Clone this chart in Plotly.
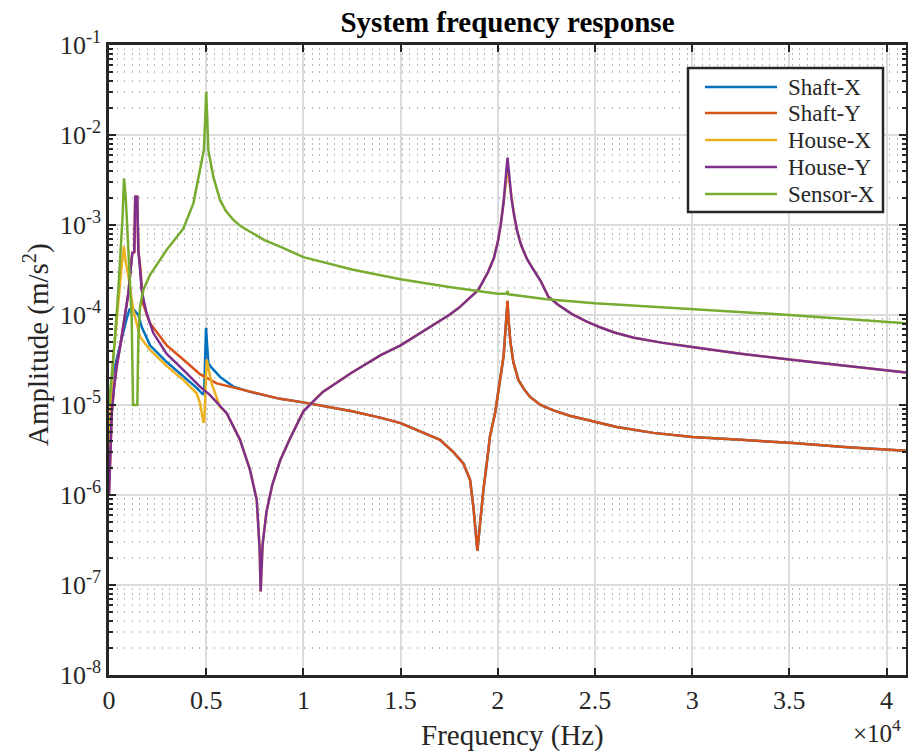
import plotly.graph_objects as go

# ---------------- data ----------------
freq_shaft_x = [0, 139, 250, 396, 560, 737, 900, 1050, 1200, 1350, 1510, 1680, 2110, 2970, 3820,
                4510, 4850, 4900, 4990, 5050, 5110, 5280, 5711, 6396, 7254, 8800, 10000, 12500,
                14000, 15000, 16000, 17030, 17715, 18230, 18573, 18745, 18950, 19090, 19260,
                19430, 19600, 19860, 20030, 20120, 20300, 20450, 20500, 20550, 20650, 20800,
                21060, 21350, 21660, 22200, 22860, 23700, 24580, 26120, 28000, 30000, 32500,
                35000, 38000, 41000]
amp_shaft_x = [1.0e-5, 1.8e-5, 2.4e-5, 3.3e-5, 4.5e-5, 6.5e-5, 9.0e-5, 1.15e-4, 1.2e-4, 1.1e-4,
               1.0e-4, 7.4e-5, 4.6e-5, 3.0e-5, 2.1e-5, 1.55e-5, 1.3e-5, 1.47e-5, 7.2e-5, 4.0e-5,
               2.9e-5, 2.6e-5, 2.05e-5, 1.6e-5, 1.4e-5, 1.17e-5, 1.07e-5, 8.5e-6, 7.2e-6, 6.3e-6,
               5.1e-6, 4.1e-6, 3.0e-6, 2.24e-6, 1.48e-6, 7.4e-7, 2.4e-7, 5.2e-7, 1.14e-6, 2.2e-6,
               4.5e-6, 8.1e-6, 1.47e-5, 1.9e-5, 3.5e-5, 1.0e-4, 1.4e-4, 9.0e-5, 5.0e-5, 3.0e-5,
               1.9e-5, 1.5e-5, 1.23e-5, 1.0e-5, 8.7e-6, 7.6e-6, 6.8e-6, 5.7e-6, 4.9e-6, 4.4e-6,
               4.1e-6, 3.8e-6, 3.4e-6, 3.1e-6]

freq_shaft_y = [0, 60, 139, 250, 396, 560, 737, 900, 995, 1100, 1200, 1300, 1350, 1450, 1510,
                1600, 1680, 1765, 2110, 2970, 3820, 4680, 5540, 7254, 8800, 10000, 12500, 14000,
                15000, 16000, 17030, 17715, 18230, 18573, 18745, 18950, 19090, 19260, 19430,
                19600, 19860, 20030, 20120, 20300, 20450, 20500, 20550, 20650, 20800, 21060,
                21350, 21660, 22200, 22860, 23700, 24580, 26120, 28000, 30000, 32500, 35000,
                38000, 41000]
amp_shaft_y = [1.0e-6, 3.0e-6, 8.0e-6, 1.5e-5, 2.7e-5, 4.3e-5, 7.4e-5, 1.2e-4, 1.74e-4, 3.0e-4,
               4.9e-4, 5.0e-4, 2.06e-3, 2.06e-3, 5.2e-4, 3.5e-4, 2.2e-4, 1.3e-4, 8.1e-5, 4.6e-5,
               3.2e-5, 2.2e-5, 1.74e-5, 1.4e-5, 1.17e-5, 1.07e-5, 8.5e-6, 7.2e-6, 6.3e-6, 5.1e-6,
               4.1e-6, 3.0e-6, 2.24e-6, 1.48e-6, 7.4e-7, 2.4e-7, 5.2e-7, 1.14e-6, 2.2e-6, 4.5e-6,
               8.1e-6, 1.47e-5, 1.9e-5, 3.5e-5, 1.0e-4, 1.45e-4, 9.0e-5, 5.0e-5, 3.0e-5, 1.9e-5,
               1.5e-5, 1.23e-5, 1.0e-5, 8.7e-6, 7.6e-6, 6.8e-6, 5.7e-6, 4.9e-6, 4.4e-6, 4.1e-6,
               3.8e-6, 3.4e-6, 3.1e-6]

freq_house_x = [0, 60, 139, 250, 396, 480, 566, 680, 770, 850, 995, 1250, 1595, 2110, 2970, 3820,
                4510, 4680, 4850, 4900, 5025, 5280, 5711, 6055, 6740, 7255, 7600, 7750, 7800,
                7900, 8100, 8400, 8800, 9300, 10000, 10500, 11000, 12500, 14000, 15000, 16000,
                17000, 17500, 18000, 18500, 19000, 19500, 19800, 20000, 20150, 20300, 20400,
                20500, 20600, 20700, 20850, 21000, 21200, 21500, 21830, 22200, 22600, 23100,
                23800, 24500, 25260, 26000, 27000, 28500, 30000, 32500, 35000, 38000, 41000]
amp_house_x = [3.5e-6, 8.0e-6, 1.75e-5, 4.0e-5, 8.1e-5, 1.3e-4, 2.2e-4, 4.0e-4, 5.8e-4, 4.0e-4,
               2.7e-4, 1.14e-4, 5.7e-5, 4.1e-5, 2.7e-5, 1.9e-5, 1.35e-5, 1.05e-5, 6.5e-6, 6.5e-6,
               3.2e-5, 1.74e-5, 9.5e-6, 8.1e-6, 4.1e-6, 1.9e-6, 8.8e-7, 2.5e-7, 8.5e-8, 2.8e-7,
               6.5e-7, 1.3e-6, 2.4e-6, 4.2e-6, 8.5e-6, 1.1e-5, 1.4e-5, 2.3e-5, 3.6e-5, 4.6e-5,
               6.3e-5, 8.5e-5, 1.0e-4, 1.2e-4, 1.5e-4, 1.9e-4, 3.0e-4, 4.3e-4, 6.5e-4, 1.0e-3,
               1.8e-3, 3.0e-3, 4.2e-3, 3.0e-3, 2.0e-3, 1.25e-3, 8.5e-4, 6.0e-4, 4.2e-4, 3.2e-4,
               2.4e-4, 1.6e-4, 1.3e-4, 1.03e-4, 8.6e-5, 7.3e-5, 6.4e-5, 5.6e-5, 4.9e-5, 4.4e-5,
               3.7e-5, 3.2e-5, 2.7e-5, 2.3e-5]

freq_house_y = [0, 60, 139, 250, 396, 560, 737, 900, 995, 1100, 1200, 1300, 1350, 1450, 1510,
                1600, 1680, 1800, 1940, 2280, 2970, 3820, 4680, 5200, 6055, 6740, 7255, 7600,
                7750, 7800, 7900, 8100, 8400, 8800, 9300, 10000, 10500, 11000, 12500, 14000,
                15000, 16000, 17000, 17500, 18000, 18500, 19000, 19500, 19800, 20000, 20150,
                20300, 20400, 20500, 20600, 20700, 20850, 21000, 21200, 21500, 21830, 22200,
                22600, 23100, 23800, 24500, 25260, 26000, 27000, 28500, 30000, 32500, 35000,
                38000, 41000]
amp_house_y = [1.0e-6, 3.0e-6, 8.0e-6, 1.5e-5, 2.7e-5, 4.3e-5, 7.4e-5, 1.2e-4, 1.74e-4, 3.0e-4,
               4.9e-4, 5.0e-4, 2.06e-3, 2.06e-3, 5.2e-4, 3.2e-4, 1.9e-4, 1.4e-4, 1.04e-4, 6.3e-5,
               3.7e-5, 2.45e-5, 1.6e-5, 1.29e-5, 8.1e-6, 4.1e-6, 1.9e-6, 8.8e-7, 2.5e-7, 8.5e-8,
               2.8e-7, 6.5e-7, 1.3e-6, 2.4e-6, 4.2e-6, 8.5e-6, 1.1e-5, 1.4e-5, 2.3e-5, 3.6e-5,
               4.6e-5, 6.3e-5, 8.5e-5, 1.0e-4, 1.2e-4, 1.5e-4, 1.9e-4, 3.0e-4, 4.3e-4, 6.5e-4,
               1.0e-3, 1.8e-3, 3.2e-3, 5.6e-3, 3.4e-3, 2.0e-3, 1.25e-3, 8.5e-4, 6.0e-4, 4.2e-4,
               3.2e-4, 2.4e-4, 1.6e-4, 1.3e-4, 1.03e-4, 8.6e-5, 7.3e-5, 6.4e-5, 5.6e-5, 4.9e-5,
               4.4e-5, 3.7e-5, 3.2e-5, 2.7e-5, 2.3e-5]

freq_sensor_x = [0, 150, 310, 480, 600, 700, 770, 850, 910, 1045, 1165, 1235, 1457, 1510, 1595,
                 1765, 2110, 2970, 3820, 4340, 4680, 4880, 4950, 5000, 5050, 5110, 5370, 5711,
                 6000, 6396, 6800, 7254, 8000, 8798, 10000, 12500, 15000, 17500, 20000, 20450,
                 20500, 20550, 22500, 25000, 27500, 30000, 35000, 41000]
amp_sensor_x = [9.7e-6, 2.2e-5, 5.7e-5, 1.9e-4, 5.3e-4, 1.25e-3, 3.3e-3, 2.2e-3, 1.25e-3, 3.5e-4,
                9.6e-5, 1.0e-5, 1.0e-5, 5.7e-5, 1.23e-4, 1.9e-4, 2.8e-4, 5.3e-4, 9.1e-4, 1.74e-3,
                4.1e-3, 6.8e-3, 1.5e-2, 3.0e-2, 1.6e-2, 6.8e-3, 3.4e-3, 1.9e-3, 1.45e-3, 1.14e-3,
                9.6e-4, 8.4e-4, 6.8e-4, 5.75e-4, 4.4e-4, 3.2e-4, 2.5e-4, 2.05e-4, 1.72e-4, 1.72e-4,
                1.85e-4, 1.7e-4, 1.5e-4, 1.35e-4, 1.25e-4, 1.15e-4, 1.0e-4, 8.1e-5]

series_names = ["Shaft-X", "Shaft-Y", "House-X", "House-Y", "Sensor-X"]
x_tick_vals = [0, 5000, 10000, 15000, 20000, 25000, 30000, 35000, 40000]
x_tick_text = ["0", "0.5", "1", "1.5", "2", "2.5", "3", "3.5", "4"]
y_decades = [-8, -7, -6, -5, -4, -3, -2, -1]

# ---------------- figure ----------------
W, H = 908, 751
L, R, T, B = 109, 2, 45, 76
PW, PH = W - L - R, H - T - B


def px_x(p):
    return (p - L) / PW


def px_y(p):
    return 1 - (p - T) / PH


colors = ["#0072BD", "#D95319", "#EDB120", "#7E2F8E", "#77AC30"]
data = [(freq_shaft_x, amp_shaft_x), (freq_shaft_y, amp_shaft_y),
        (freq_house_x, amp_house_x), (freq_house_y, amp_house_y),
        (freq_sensor_x, amp_sensor_x)]

fig = go.Figure()
for name, (fx, fy), c in zip(series_names, data, colors):
    fig.add_trace(go.Scatter(x=fx, y=fy, mode="lines", name=name, showlegend=False,
                             line=dict(color=c, width=2.5)))

FONT = "Liberation Serif, Times New Roman, serif"
AX = "#262626"

y_tick_vals = [10.0 ** d for d in y_decades]
y_tick_text = ["10<sup>%d</sup>" % d for d in y_decades]
y_minor_vals = [m * 10.0 ** d for d in y_decades[:-1] for m in range(2, 10)]

fig.update_layout(
    width=W, height=H,
    margin=dict(l=L, r=R, t=T, b=B, autoexpand=False),
    paper_bgcolor="white", plot_bgcolor="white",
    font=dict(family=FONT, color=AX),
    title=dict(text="<b>System frequency response</b>", xref="paper", x=0.5, xanchor="center",
               yref="container", y=1 - 22 / H, yanchor="middle",
               font=dict(size=29, family=FONT, color="#000")),
)

fig.update_xaxes(
    range=[0, 41000], tickmode="array", tickvals=x_tick_vals, ticktext=x_tick_text,
    ticks="inside", ticklen=7, tickwidth=2, tickcolor=AX,
    showline=True, linewidth=2.5, linecolor=AX, mirror="allticks",
    showgrid=True, gridcolor="#dcdcdc", gridwidth=2, zeroline=False, automargin=False,
    tickfont=dict(size=26, family=FONT, color=AX),
)
fig.update_yaxes(
    type="log", range=[-8, -1], tickmode="array", tickvals=y_tick_vals, ticktext=y_tick_text,
    ticks="inside", ticklen=7, tickwidth=2, tickcolor=AX,
    showline=True, linewidth=2.5, linecolor=AX, mirror="allticks",
    showgrid=True, gridcolor="#dcdcdc", gridwidth=2, zeroline=False, automargin=False,
    tickfont=dict(size=26, family=FONT, color=AX),
    minor=dict(tickmode="array", tickvals=y_minor_vals, showgrid=True,
               gridcolor="#b8b8b8", griddash="1px,6.5px", gridwidth=2,
               ticks="inside", ticklen=4, tickwidth=2, tickcolor=AX),
)

# axis titles and exponent label
fig.add_annotation(text="Frequency (Hz)", xref="paper", yref="paper", x=px_x(512), y=px_y(735),
                   xanchor="center", yanchor="middle", showarrow=False,
                   font=dict(size=29, family=FONT, color=AX))
fig.add_annotation(text="Amplitude (m/s<sup>2</sup>)", xref="paper", yref="paper",
                   x=px_x(36), y=px_y(345), xanchor="center", yanchor="middle",
                   textangle=-90, showarrow=False, font=dict(size=29, family=FONT, color=AX))
fig.add_annotation(text="×10<sup>4</sup>", xref="paper", yref="paper", x=px_x(903), y=px_y(731),
                   xanchor="right", yanchor="middle", showarrow=False,
                   font=dict(size=25, family=FONT, color=AX))

# legend box (drawn as shapes + text)
fig.add_shape(type="rect", xref="paper", yref="paper", x0=px_x(688), x1=px_x(883),
              y0=px_y(212), y1=px_y(68), line=dict(color=AX, width=2.5), fillcolor="white",
              layer="above")
row_y = [87, 113, 140, 167, 194]
for name, c, ry in zip(series_names, colors, row_y):
    fig.add_shape(type="line", xref="paper", yref="paper", x0=px_x(705), x1=px_x(777),
                  y0=px_y(ry), y1=px_y(ry), line=dict(color=c, width=2.5), layer="above")
    fig.add_annotation(text=name, xref="paper", yref="paper", x=px_x(786), y=px_y(ry),
                       xanchor="left", yanchor="middle", showarrow=False,
                       font=dict(size=23, family=FONT, color=AX))

fig.write_html("out.html", config={"displayModeBar": False},
               post_script="document.body.style.margin='0px';")
